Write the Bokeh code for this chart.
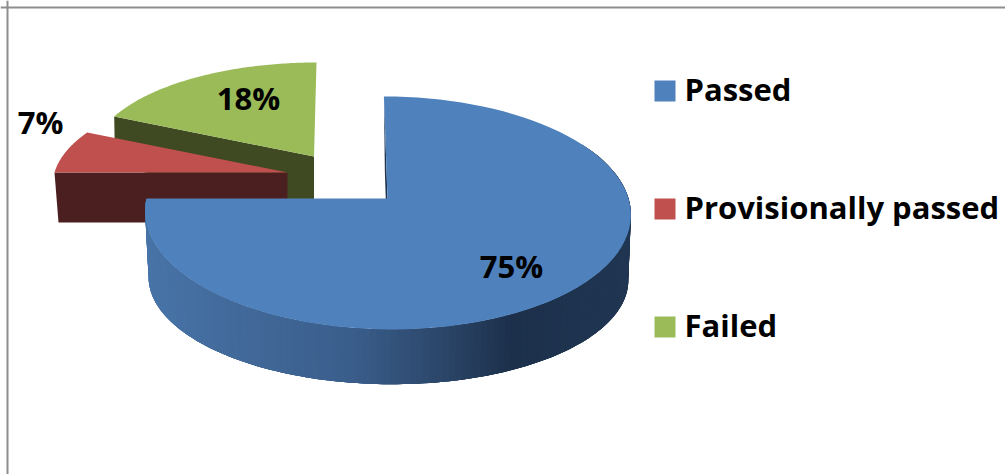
import math

from bokeh.core.properties import value
from bokeh.embed import file_html
from bokeh.models import Range1d, Span
from bokeh.plotting import figure
from bokeh.resources import INLINE

# Chart data
categories = ["Passed", "Provisionally passed", "Failed"]
percents = [75, 7, 18]
top_colors = ["#4F81BD", "#C0504D", "#9BBB59"]
cut_colors = ["#1F3551", "#4B1F1F", "#404A22"]

FONT = value("Open Sans")
LABEL_SIZE = "31px"

# Perspective discs: apex position, half widths, skew of the far edge, foreshortening
DISC_TOP = [
    dict(ax=387, ay=198, a=241, b=114.7, k=0.124, s=-4),
    dict(ax=287, ay=172, a=233, b=99, k=0.124, s=0),
    dict(ax=313.5, ay=156, a=222, b=94, k=0.0, s=2.5),
]
DISC_BOTTOM = [
    dict(ax=387.5, ay=265, a=238, b=104, k=0.124, s=-3.5),
    dict(ax=287, ay=222, a=229, b=99, k=0.124, s=0),
    dict(ax=313.5, ay=206, a=221, b=94, k=0.0, s=2.5),
]

# Horizontal shading of the round side of the largest slice: (x, r, g, b)
SIDE_SHADE = [
    (146, 72, 116, 168),
    (250, 65, 104, 152),
    (350, 58, 94, 140),
    (450, 42, 68, 102),
    (510, 28, 48, 75),
    (630, 32, 54, 82),
]


def project(angle, disc, radius=1.0):
    """Clockwise angle from the far point of a disc to page coordinates."""
    u = radius * math.sin(math.radians(angle))
    v = radius * math.cos(math.radians(angle))
    w = 1 + disc["k"] * v
    return (
        disc["ax"] + (disc["a"] * u + disc["s"] * v) / w,
        disc["ay"] - disc["b"] * v / w,
    )


def arc(start, end, disc, steps=90):
    pts = [project(start + (end - start) * i / steps, disc) for i in range(steps + 1)]
    return [p[0] for p in pts], [p[1] for p in pts]


def shade(x):
    for (x0, *c0), (x1, *c1) in zip(SIDE_SHADE, SIDE_SHADE[1:]):
        if x <= x1:
            f = max(0.0, (x - x0) / (x1 - x0))
            rgb = [round(a + (b - a) * f) for a, b in zip(c0, c1)]
            return "#%02x%02x%02x" % tuple(rgb)
    return "#%02x%02x%02x" % tuple(SIDE_SHADE[-1][1:])


# Slice boundaries, clockwise from the far point of the disc
bounds = [0.0]
for pct in percents:
    bounds.append(bounds[-1] + pct * 3.6)

p = figure(
    width=1005,
    height=474,
    x_range=Range1d(0, 1005),
    y_range=Range1d(474, 0),
    output_backend="svg",
    toolbar_location=None,
    min_border=0,
    outline_line_color=None,
)
p.axis.visible = False
p.grid.visible = False
p.background_fill_color = "#FFFFFF"
p.border_fill_color = "#FFFFFF"

# Chart area frame (top and left edges are what falls inside the page)
p.add_layout(Span(location=7, dimension="width", line_color="#8E8E8E", line_width=2))
p.add_layout(Span(location=7, dimension="height", line_color="#8E8E8E", line_width=2))


def cut_face(index, angle):
    """Flat face of a slice along the radius at the given angle."""
    top, bottom = DISC_TOP[index], DISC_BOTTOM[index]
    corners = [
        project(angle, top),
        (top["ax"], top["ay"]),
        (bottom["ax"], bottom["ay"]),
        project(angle, bottom),
    ]
    p.patch(
        [c[0] for c in corners],
        [c[1] for c in corners],
        fill_color=cut_colors[index],
        line_color=None,
    )


def top_face(index):
    top = DISC_TOP[index]
    xs, ys = arc(bounds[index], bounds[index + 1], top)
    p.patch(
        xs + [top["ax"]],
        ys + [top["ay"]],
        fill_color=top_colors[index],
        line_color=None,
    )


# Back slices first, the large slice overlaps them
cut_face(2, bounds[2])
top_face(2)
cut_face(1, bounds[1])
top_face(1)

# Round side of the large slice: overlapping shaded bands painted from the
# right end to the left, so that no seams appear between neighbours
strip_xs, strip_ys, strip_colors = [], [], []
STRIPS = 150
SIDE_START = 60
for i in range(STRIPS):
    a0 = SIDE_START + (bounds[1] - SIDE_START) * i / STRIPS
    a1 = min(bounds[1], SIDE_START + (bounds[1] - SIDE_START) * (i + 4) / STRIPS)
    a_mid = SIDE_START + (bounds[1] - SIDE_START) * (i + 0.5) / STRIPS
    top_x, top_y = arc(a0, a1, DISC_TOP[0], steps=4)
    bot_x, bot_y = arc(a1, a0, DISC_BOTTOM[0], steps=4)
    strip_xs.append(top_x + bot_x)
    strip_ys.append(top_y + bot_y)
    strip_colors.append(shade((project(a_mid, DISC_TOP[0])[0] + project(a_mid, DISC_BOTTOM[0])[0]) / 2))
p.patches(strip_xs, strip_ys, fill_color=strip_colors, line_color=None)

cut_face(0, bounds[0])
top_face(0)

# Percentage labels
LABEL_POS = [(511, 265), (40, 121), (248, 97)]
p.text(
    [q[0] for q in LABEL_POS],
    [q[1] for q in LABEL_POS],
    text=[f"{v}%" for v in percents],
    text_font=FONT,
    text_font_style="bold",
    text_font_size=LABEL_SIZE,
    text_color="#000000",
    text_align="center",
    text_baseline="middle",
)

# Legend
LEGEND_Y = [90.5, 208.5, 326.5]
LEGEND_TEXT_Y = [y - 2 for y in LEGEND_Y]
p.rect(
    [664.5] * len(categories),
    LEGEND_Y,
    width=21,
    height=21,
    fill_color=top_colors,
    line_color=None,
)
p.text(
    [684] * len(categories),
    LEGEND_TEXT_Y,
    text=categories,
    text_font=FONT,
    text_font_style="bold",
    text_font_size=LABEL_SIZE,
    text_color="#000000",
    text_align="left",
    text_baseline="middle",
)

open("out.html", "w").write(file_html(p, INLINE))
